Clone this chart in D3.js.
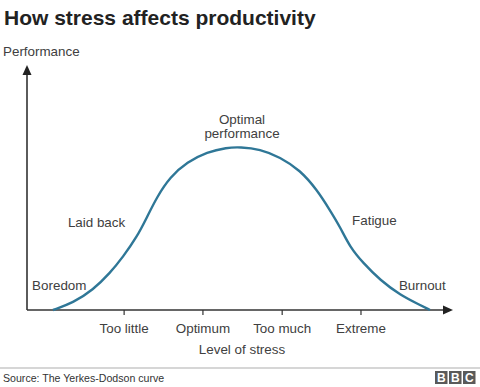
<!DOCTYPE html>
<meta charset="utf-8">
<script src="https://d3js.org/d3.v7.min.js"></script>
<style>
  body { margin: 0; background: #fff; }
  text { font-family: "Liberation Sans", Arial, Helvetica, sans-serif; }
</style>
<div id="chart"></div>
<script>
// stress level (0-100) vs performance (0-100)
var stress      = [6.1, 10.8, 15.5, 19.5, 22.5, 25.8, 28.2, 30.5, 33.6, 37.6, 42.3, 46.9, 50.0, 54.7, 59.4, 64.1, 68.1, 71.1, 73.5, 75.8, 78.9, 82.9, 87.6, 92.3, 94.6];
var performance = [0, 2.9, 8.2, 15.1, 21.6, 29.8, 38.0, 46.1, 54.3, 60.4, 64.5, 66.3, 66.5, 65.7, 62.4, 57.1, 49.0, 40.8, 33.9, 25.7, 19.2, 12.2, 6.1, 2.0, 0];
var tickValues  = [22.8, 41.3, 59.9, 78.4];
var tickLabels  = ["Too little", "Optimum", "Too much", "Extreme"];
var zoneLabels  = ["Boredom", "Laid back", "Fatigue", "Burnout"];
var zoneStress  = [1.2, 9.6, 76.3, 87.3];
var zonePerf    = [8.2, 34.0, 34.8, 8.2];

var width = 480, height = 387;
var svg = d3.select("#chart").append("svg").attr("width", width).attr("height", height);

var x = d3.scaleLinear().domain([0, 100]).range([27, 453]);
var y = d3.scaleLinear().domain([0, 100]).range([310, 65]);

var ink = "#404040";

// title
svg.append("text").attr("x", 4).attr("y", 25).text("How stress affects productivity")
  .style("font-size", "21px").style("font-weight", "bold").style("fill", "#222");

svg.append("text").attr("x", 3).attr("y", 56).text("Performance")
  .style("font-size", "13.4px").style("fill", ink);

// axes
svg.append("line").attr("x1", x(0)).attr("x2", x(100) - 8).attr("y1", y(0)).attr("y2", y(0))
  .attr("stroke", "#333").attr("stroke-width", 1.6);
svg.append("line").attr("x1", x(0)).attr("x2", x(0)).attr("y1", y(0)).attr("y2", y(100) + 8)
  .attr("stroke", "#333").attr("stroke-width", 1.6);
svg.append("path")
  .attr("d", "M" + x(100) + "," + y(0) + "l-10,-4.5v9z").attr("fill", "#222");
svg.append("path")
  .attr("d", "M" + x(0) + "," + y(100) + "l-4.5,10h9z").attr("fill", "#222");

// ticks
var ticks = svg.append("g").selectAll("g").data(tickValues).enter().append("g");
ticks.append("line")
  .attr("x1", function(d){ return x(d) }).attr("x2", function(d){ return x(d) })
  .attr("y1", y(0)).attr("y2", y(0) + 5)
  .attr("stroke", "#333").attr("stroke-width", 1.2);
ticks.append("text")
  .attr("x", function(d){ return x(d) }).attr("y", 333)
  .attr("text-anchor", "middle")
  .text(function(d, i){ return tickLabels[i] })
  .style("font-size", "13.4px").style("fill", ink);

svg.append("text").attr("x", 242).attr("y", 354).attr("text-anchor", "middle")
  .text("Level of stress").style("font-size", "13.4px").style("fill", ink);

// curve
var pts = stress.map(function(s, i){ return [s, performance[i]] });
svg.append("path").datum(pts)
  .attr("fill", "none").attr("stroke", "#2f7797").attr("stroke-width", 2.4)
  .attr("d", d3.line().x(function(d){ return x(d[0]) }).y(function(d){ return y(d[1]) }).curve(d3.curveBasis));

// zone labels
svg.append("g").selectAll("text").data(zoneLabels).enter().append("text")
  .attr("x", function(d, i){ return x(zoneStress[i]) })
  .attr("y", function(d, i){ return y(zonePerf[i]) })
  .text(function(d){ return d })
  .style("font-size", "13.4px").style("fill", ink);

var opt = svg.append("text").attr("text-anchor", "middle").style("font-size", "13.4px").style("fill", ink);
opt.append("tspan").attr("x", 242).attr("y", 124).text("Optimal");
opt.append("tspan").attr("x", 242).attr("y", 138).text("performance");

// footer
svg.append("line").attr("x1", 0).attr("x2", width).attr("y1", 368).attr("y2", 368)
  .attr("stroke", "#c8c8c8").attr("stroke-width", 1.5);
svg.append("text").attr("x", 3).attr("y", 382).text("Source: The Yerkes-Dodson curve")
  .style("font-size", "10.6px").style("fill", "#333");

var bbc = svg.append("g").selectAll("g").data(["B", "B", "C"]).enter().append("g")
  .attr("transform", function(d, i){ return "translate(" + (435 + i * 14) + ",371)" });
bbc.append("rect").attr("width", 12.5).attr("height", 13).attr("fill", "#5a5a5a");
bbc.append("text").attr("x", 6.25).attr("y", 11).attr("text-anchor", "middle")
  .text(function(d){ return d })
  .style("font-size", "12px").style("font-weight", "bold").style("fill", "#fff");
</script>
